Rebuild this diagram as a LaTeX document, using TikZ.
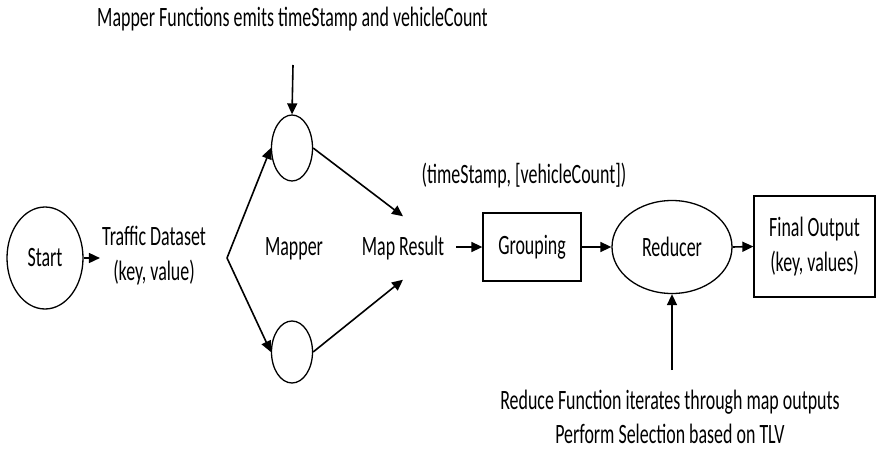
\documentclass[tikz,border=0pt]{standalone}
\usepackage{fontspec}
\setmainfont{Carlito}[FakeStretch=0.64]
\usetikzlibrary{arrows.meta,shapes.geometric}

\begin{document}
\begin{tikzpicture}[x=1pt,y=-1pt,
  every node/.style={font=\fontsize{28}{35}\selectfont, inner sep=2pt},
  flow/.style={line width=1.6pt, -{Triangle[length=11pt,width=10pt]}},
  oval/.style={draw, line width=1.3pt, ellipse, inner sep=0pt},
  box/.style={draw, line width=1.3pt, rectangle, inner sep=0pt},
  lbl/.style={anchor=base, inner sep=0pt}]
\useasboundingbox (0,0) rectangle (876,452);

% input and mapping stage
\node[oval, minimum width=76pt, minimum height=102pt] (start) at (45,258) {Start};
\node[align=center] (traffic) at (154,256) {Traffic Dataset\\(key, value)};
\coordinate (fork) at (227,258);
\node[oval, minimum width=41pt, minimum height=66pt] (m1) at (292,148) {};
\node[oval, minimum width=41pt, minimum height=62pt] (m2) at (292,352) {};
\node[lbl] (mapper) at (294,255) {Mapper};
\node[minimum height=63pt] (mapres) at (403,248) {Map Result};
\node[lbl] (maptext) at (292.5,27) {Mapper Functions emits timeStamp and vehicleCount};
\coordinate (mapin) at (293,65);

% grouping and reducing stage
\node[lbl] (pair) at (524,183) {(timeStamp, [vehicleCount])};
\node[box, minimum width=98pt, minimum height=68pt] (group) at (532,247) {Grouping};
\node[oval, minimum width=120pt, minimum height=93pt] (reducer) at (672,247) {Reducer};
\node[box, minimum width=121pt, minimum height=101pt, align=center] (final) at (814.5,246.5) {Final Output\\(key, values)};
\node[lbl] (red1) at (670,409) {Reduce Function iterates through map outputs};
\node[lbl] (red2) at (670,443) {Perform Selection based on TLV};
\coordinate (redin) at (672,370);

% connectors
\draw[flow] (start.east) -- (start.east -| traffic.west);
\draw[flow] (fork) -- (m1.west);
\draw[flow] (fork) -- (m2.west);
\draw[flow] (mapin) -- (m1.north);
\draw[flow] (m1.east) -- (mapres.north);
\draw[flow] (m2.east) -- (mapres.south);
\draw[flow, shorten <=10pt] (mapres.east |- group.west) -- (group.west);
\draw[flow] (group.east) -- (reducer.west);
\draw[flow] (reducer.east) -- (final.west);
\draw[flow] (redin) -- (reducer.south);
\end{tikzpicture}
\end{document}
